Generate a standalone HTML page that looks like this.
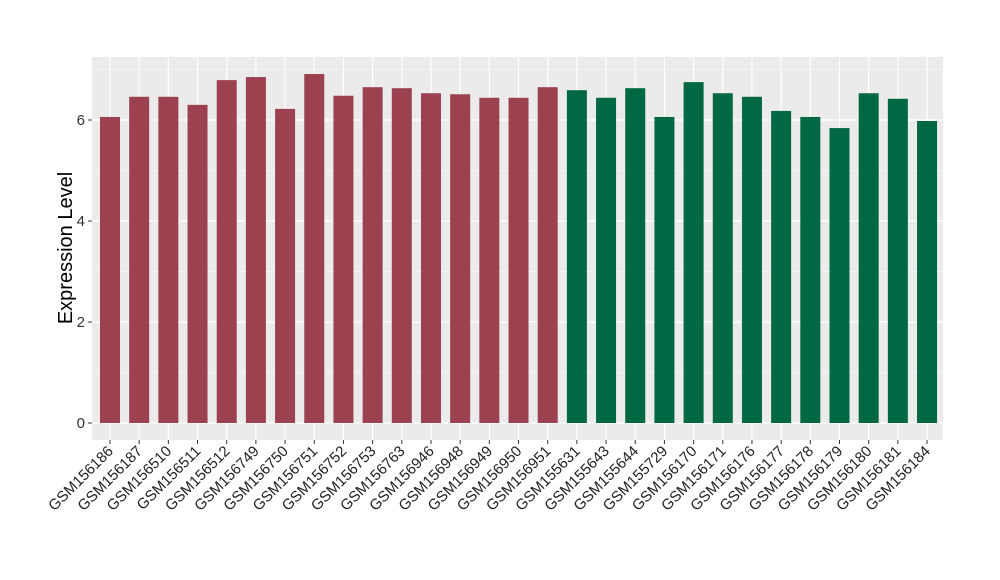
<!DOCTYPE html>
<html><head><meta charset="utf-8"><style>body{margin:0;background:#fff}svg{display:block}text{font-family:"Liberation Sans",sans-serif}</style></head>
<body>
<svg id="chart" width="1000" height="580">
<rect x="92" y="57" width="851" height="383" fill="#ebebeb"/>
<g id="grid"></g><g id="bars"></g><g id="axes"></g>
<text transform="translate(72,248) rotate(-90)" text-anchor="middle" font-size="20" fill="#000">Expression Level</text>
</svg>
<script>
const categories=["GSM156186","GSM156187","GSM156510","GSM156511","GSM156512","GSM156749","GSM156750","GSM156751","GSM156752","GSM156753","GSM156763","GSM156946","GSM156948","GSM156949","GSM156950","GSM156951","GSM155631","GSM155643","GSM155644","GSM155729","GSM156170","GSM156171","GSM156176","GSM156177","GSM156178","GSM156179","GSM156180","GSM156181","GSM156184"];
const values=[6.06,6.46,6.46,6.30,6.79,6.85,6.22,6.91,6.48,6.65,6.63,6.53,6.51,6.44,6.44,6.65,6.59,6.44,6.63,6.06,6.75,6.53,6.46,6.18,6.06,5.84,6.53,6.42,5.98];
const groups=[0,0,0,0,0,0,0,0,0,0,0,0,0,0,0,0,1,1,1,1,1,1,1,1,1,1,1,1,1];
const yTicks=[0,2,4,6];
const colors=["#9b4150","#006843"];
const NS="http://www.w3.org/2000/svg";
const y=v=>423-v*50.5;
const x=i=>110+i*29.18;
function mk(t,a,p){const e=document.createElementNS(NS,t);for(const k in a)e.setAttribute(k,a[k]);p.appendChild(e);return e;}
const grid=document.getElementById('grid'),bars=document.getElementById('bars'),axes=document.getElementById('axes');
for(let v=1;v<=7;v+=2){const l=mk('line',{x1:92,x2:943,y1:y(v),y2:y(v),stroke:'#fff','stroke-width':0.6},grid);}
yTicks.forEach(v=>{const l=mk('line',{x1:92,x2:943,y1:y(v),y2:y(v),stroke:'#fff','stroke-width':1.2},grid);
const t=mk('line',{x1:88,x2:92,y1:y(v),y2:y(v),stroke:'#333'},axes);
const tx=mk('text',{x:85,y:y(v)+5,'text-anchor':'end','font-size':15,fill:'#333'},axes);tx.textContent=v;});
categories.forEach((c,i)=>{const g=mk('line',{x1:x(i),x2:x(i),y1:57,y2:440,stroke:'#fff','stroke-width':1.2},grid);
const b=mk('rect',{x:x(i)-10,width:20,y:y(values[i]),height:y(0)-y(values[i]),fill:colors[groups[i]]},bars);
const t=mk('line',{x1:x(i),x2:x(i),y1:440,y2:444,stroke:'#333'},axes);
const tx=mk('text',{transform:`translate(${x(i)+4},${452}) rotate(-45)`,'text-anchor':'end','font-size':15,fill:'#222'},axes);tx.textContent=c;});
</script>
</body></html>
